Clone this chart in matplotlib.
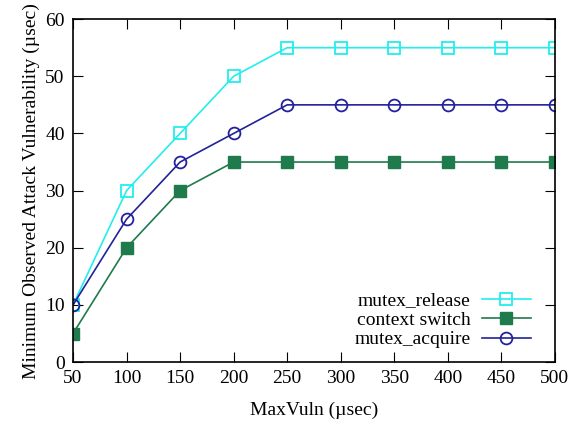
import matplotlib
matplotlib.use("Agg")
import matplotlib.pyplot as plt

max_vuln = [50, 100, 150, 200, 250, 300, 350, 400, 450, 500]
mutex_release = [10, 30, 40, 50, 55, 55, 55, 55, 55, 55]
context_switch = [5, 20, 30, 35, 35, 35, 35, 35, 35, 35]
mutex_acquire = [10, 25, 35, 40, 45, 45, 45, 45, 45, 45]

plt.rcParams['font.family'] = ['Liberation Serif', 'DejaVu Serif']

fig = plt.figure(figsize=(5.75, 4.25), dpi=100)
ax = fig.add_axes([0.127, 0.148, 0.838, 0.807])

ax.plot(max_vuln, mutex_release, color='#22eeee', lw=1.2, marker='s', ms=8,
        mfc='none', mew=1.3, label='mutex_release')
ax.plot(max_vuln, context_switch, color='#1f7a4c', lw=1.2, marker='s', ms=8,
        mfc='#1f7a4c', label='context switch')
ax.plot(max_vuln, mutex_acquire, color='#22229a', lw=1.2, marker='o', ms=8.5,
        mfc='none', mew=1.3, label='mutex_acquire')

ax.set_xlim(50, 500)
ax.set_ylim(0, 60)
ax.set_xticks(max_vuln)
ax.set_yticks(range(0, 61, 10))
ax.tick_params(direction='in', top=True, right=True, length=7, labelsize=14, pad=6)
for s in ax.spines.values():
    s.set_linewidth(1.2)

ax.set_xlabel('MaxVuln (\u00b5sec)', fontsize=14, labelpad=10)
ax.set_ylabel('Minimum Observed Attack Vulnerability (\u00b5sec)', fontsize=14, labelpad=4)

ax.legend(loc='lower right', frameon=False, markerfirst=False, fontsize=14,
          handlelength=2.5, handletextpad=0.6, labelspacing=0.1,
          borderaxespad=0.3, bbox_to_anchor=(0.978, 0.0))

fig.savefig('out.png', dpi=100)
